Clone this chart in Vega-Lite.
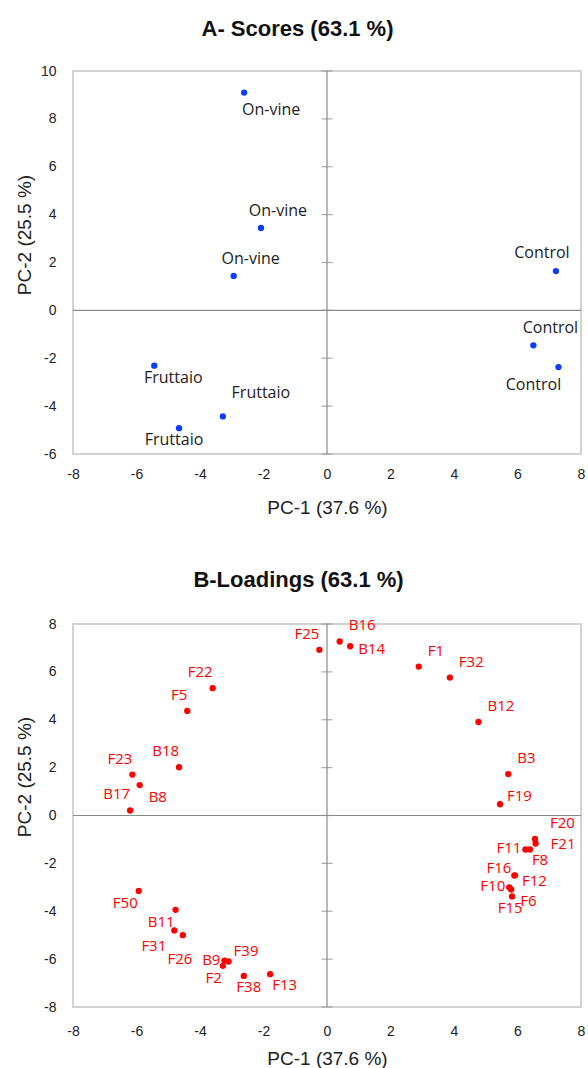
{
  "$schema": "https://vega.github.io/schema/vega-lite/v6.json",
  "autosize": {"type": "pad"},
  "padding": {"left": 14, "top": 17, "right": 0, "bottom": 0},
  "background": "white",
  "bounds": "flush",
  "spacing": 170,
  "config": {
    "view": {"stroke": "#d2d2d2", "strokeWidth": 2},
    "axis": {"grid": false, "domain": false, "ticks": false, "labelFlush": false, "labelOverlap": false, "labelFont": "Liberation Sans", "labelFontSize": 14, "labelColor": "#222222", "titleFont": "Liberation Sans", "titleFontSize": 19, "titleFontWeight": "normal", "titleColor": "#222222"}
  },
  "datasets": {
    "scores": [
      {"id": "On-vine 1", "label": "On-vine", "pc1": -2.61, "pc2": 9.10},
      {"id": "On-vine 2", "label": "On-vine", "pc1": -2.08, "pc2": 3.44},
      {"id": "On-vine 3", "label": "On-vine", "pc1": -2.94, "pc2": 1.44},
      {"id": "Control 1", "label": "Control", "pc1": 7.21, "pc2": 1.64},
      {"id": "Control 2", "label": "Control", "pc1": 6.50, "pc2": -1.46},
      {"id": "Control 3", "label": "Control", "pc1": 7.29, "pc2": -2.37},
      {"id": "Fruttaio 1", "label": "Fruttaio", "pc1": -5.44, "pc2": -2.31},
      {"id": "Fruttaio 2", "label": "Fruttaio", "pc1": -3.28, "pc2": -4.43},
      {"id": "Fruttaio 3", "label": "Fruttaio", "pc1": -4.66, "pc2": -4.92}
    ],
    "loadings": [
      {"label": "F25", "pc1": -0.24, "pc2": 6.92},
      {"label": "F22", "pc1": -3.60, "pc2": 5.32},
      {"label": "F5", "pc1": -4.40, "pc2": 4.37},
      {"label": "B18", "pc1": -4.66, "pc2": 2.02},
      {"label": "F23", "pc1": -6.13, "pc2": 1.71},
      {"label": "B8", "pc1": -5.90, "pc2": 1.27},
      {"label": "B17", "pc1": -6.20, "pc2": 0.21},
      {"label": "B16", "pc1": 0.40, "pc2": 7.27},
      {"label": "B14", "pc1": 0.73, "pc2": 7.07},
      {"label": "F1", "pc1": 2.89, "pc2": 6.22},
      {"label": "F32", "pc1": 3.87, "pc2": 5.76},
      {"label": "B12", "pc1": 4.77, "pc2": 3.91},
      {"label": "B3", "pc1": 5.71, "pc2": 1.73},
      {"label": "F19", "pc1": 5.45, "pc2": 0.47},
      {"label": "F20", "pc1": 6.55, "pc2": -0.98},
      {"label": "F21", "pc1": 6.57, "pc2": -1.17},
      {"label": "F11", "pc1": 6.25, "pc2": -1.42},
      {"label": "F8", "pc1": 6.39, "pc2": -1.42},
      {"label": "F16", "pc1": 5.90, "pc2": -2.51},
      {"label": "F12", "pc1": 5.92, "pc2": -2.50},
      {"label": "F10", "pc1": 5.74, "pc2": -3.00},
      {"label": "F6", "pc1": 5.80, "pc2": -3.09},
      {"label": "F15", "pc1": 5.83, "pc2": -3.38},
      {"label": "F50", "pc1": -5.93, "pc2": -3.15},
      {"label": "B11", "pc1": -4.77, "pc2": -3.94},
      {"label": "F31", "pc1": -4.81, "pc2": -4.80},
      {"label": "F26", "pc1": -4.54, "pc2": -5.00},
      {"label": "B9", "pc1": -3.23, "pc2": -6.06},
      {"label": "F39", "pc1": -3.10, "pc2": -6.10},
      {"label": "F2", "pc1": -3.28, "pc2": -6.28},
      {"label": "F38", "pc1": -2.62, "pc2": -6.70},
      {"label": "F13", "pc1": -1.79, "pc2": -6.63}
    ],
    "ticksA": [{"v": -6}, {"v": -4}, {"v": -2}, {"v": 0}, {"v": 2}, {"v": 4}, {"v": 6}, {"v": 8}, {"v": 10}],
    "ticksB": [{"v": -8}, {"v": -6}, {"v": -4}, {"v": -2}, {"v": 0}, {"v": 2}, {"v": 4}, {"v": 6}, {"v": 8}]
  },
  "vconcat": [
    {
      "width": 508,
      "height": 383,
      "title": {"text": "A- Scores (63.1 %)", "font": "Liberation Sans", "fontSize": 22, "fontWeight": "bold", "color": "#111111", "anchor": "middle", "frame": "group", "dx": -29.5, "offset": 23},
      "layer": [
        {
          "data": {"name": "scores"},
          "encoding": {
            "x": {"field": "pc1", "type": "quantitative", "scale": {"domain": [-8, 8], "nice": false, "zero": false},
              "axis": {"title": "PC-1 (37.6 %)", "values": [-8, -6, -4, -2, 0, 2, 4, 6, 8], "labelExpr": "'' + datum.value", "labelPadding": 13, "titleY": 53, "titleBaseline": "middle"}},
            "y": {"field": "pc2", "type": "quantitative", "scale": {"domain": [-6, 10], "nice": false, "zero": false},
              "axis": {"title": "PC-2 (25.5 %)", "values": [-6, -4, -2, 0, 2, 4, 6, 8, 10], "labelExpr": "'' + datum.value", "labelPadding": 17, "titleX": -39, "titleY": 163.5, "titleBaseline": "bottom"}}
          },
          "layer": [
            {"mark": {"type": "circle", "size": 40, "opacity": 1, "color": "#0a3cff"}},
            {"transform": [{"filter": {"field": "id", "oneOf": ["On-vine 1"]}}], "mark": {"type": "text", "font": "Open Sans", "fontSize": 16, "color": "#222222", "align": "center", "baseline": "middle", "dx": 27, "dy": 17}, "encoding": {"text": {"field": "label"}}},
            {"transform": [{"filter": {"field": "id", "oneOf": ["On-vine 2", "On-vine 3", "Control 2"]}}], "mark": {"type": "text", "font": "Open Sans", "fontSize": 16, "color": "#222222", "align": "center", "baseline": "middle", "dx": 17, "dy": -17}, "encoding": {"text": {"field": "label"}}},
            {"transform": [{"filter": {"field": "id", "oneOf": ["Control 1"]}}], "mark": {"type": "text", "font": "Open Sans", "fontSize": 16, "color": "#222222", "align": "center", "baseline": "middle", "dx": -14, "dy": -18}, "encoding": {"text": {"field": "label"}}},
            {"transform": [{"filter": {"field": "id", "oneOf": ["Control 3"]}}], "mark": {"type": "text", "font": "Open Sans", "fontSize": 16, "color": "#222222", "align": "center", "baseline": "middle", "dx": -25, "dy": 18}, "encoding": {"text": {"field": "label"}}},
            {"transform": [{"filter": {"field": "id", "oneOf": ["Fruttaio 1"]}}], "mark": {"type": "text", "font": "Open Sans", "fontSize": 16, "color": "#222222", "align": "center", "baseline": "middle", "dx": 19, "dy": 12}, "encoding": {"text": {"field": "label"}}},
            {"transform": [{"filter": {"field": "id", "oneOf": ["Fruttaio 3"]}}], "mark": {"type": "text", "font": "Open Sans", "fontSize": 16, "color": "#222222", "align": "center", "baseline": "middle", "dx": -5, "dy": 12}, "encoding": {"text": {"field": "label"}}},
            {"transform": [{"filter": {"field": "id", "oneOf": ["Fruttaio 2"]}}], "mark": {"type": "text", "font": "Open Sans", "fontSize": 16, "color": "#222222", "align": "center", "baseline": "middle", "dx": 38, "dy": -23}, "encoding": {"text": {"field": "label"}}}
          ]
        },
        {
          "data": {"values": [{}]},
          "mark": {"type": "rule", "color": "#8a8a8a", "strokeWidth": 1.2},
          "encoding": {"y": {"datum": 0, "type": "quantitative", "scale": {"domain": [-6, 10], "nice": false, "zero": false}, "title": "PC-2 (25.5 %)"}}
        },
        {
          "data": {"values": [{}]},
          "mark": {"type": "rule", "color": "#8a8a8a", "strokeWidth": 1.2},
          "encoding": {"x": {"datum": 0, "type": "quantitative", "scale": {"domain": [-8, 8], "nice": false, "zero": false}, "title": "PC-1 (37.6 %)"}}
        },
        {
          "data": {"name": "ticksA"},
          "mark": {"type": "tick", "orient": "horizontal", "size": 11, "thickness": 1.2, "color": "#8a8a8a"},
          "encoding": {
            "x": {"datum": 0, "type": "quantitative", "scale": {"domain": [-8, 8], "nice": false, "zero": false}, "title": "PC-1 (37.6 %)"},
            "y": {"field": "v", "type": "quantitative", "scale": {"domain": [-6, 10], "nice": false, "zero": false}, "title": "PC-2 (25.5 %)"}
          }
        }
      ]
    },
    {
      "width": 508,
      "height": 383,
      "title": {"text": "B-Loadings (63.1 %)", "font": "Liberation Sans", "fontSize": 22, "fontWeight": "bold", "color": "#111111", "anchor": "middle", "frame": "group", "dx": -28.5, "offset": 25},
      "layer": [
        {
          "data": {"name": "loadings"},
          "encoding": {
            "x": {"field": "pc1", "type": "quantitative", "scale": {"domain": [-8, 8], "nice": false, "zero": false},
              "axis": {"title": "PC-1 (37.6 %)", "values": [-8, -6, -4, -2, 0, 2, 4, 6, 8], "labelExpr": "'' + datum.value", "labelPadding": 17, "titleY": 51, "titleBaseline": "middle"}},
            "y": {"field": "pc2", "type": "quantitative", "scale": {"domain": [-8, 8], "nice": false, "zero": false},
              "axis": {"title": "PC-2 (25.5 %)", "values": [-8, -6, -4, -2, 0, 2, 4, 6, 8], "labelExpr": "'' + datum.value", "labelPadding": 17, "titleX": -39, "titleY": 152.5, "titleBaseline": "bottom"}}
          },
          "layer": [
            {"mark": {"type": "circle", "size": 40, "opacity": 1, "color": "#ff0000"}},
            {"transform": [{"filter": {"field": "label", "oneOf": ["F25", "F22", "F5", "B18", "F23", "B17"]}}], "mark": {"type": "text", "font": "Open Sans", "fontSize": 15, "color": "#ff0000", "align": "right", "baseline": "middle", "dx": 0, "dy": -16}, "encoding": {"text": {"field": "label"}}},
            {"transform": [{"filter": {"field": "label", "oneOf": ["B16", "F1", "F32", "B12", "B3"]}}], "mark": {"type": "text", "font": "Open Sans", "fontSize": 15, "color": "#ff0000", "align": "left", "baseline": "middle", "dx": 9, "dy": -16}, "encoding": {"text": {"field": "label"}}},
            {"transform": [{"filter": {"field": "label", "oneOf": ["F20"]}}], "mark": {"type": "text", "font": "Open Sans", "fontSize": 15, "color": "#ff0000", "align": "left", "baseline": "middle", "dx": 15, "dy": -16}, "encoding": {"text": {"field": "label"}}},
            {"transform": [{"filter": {"field": "label", "oneOf": ["F21"]}}], "mark": {"type": "text", "font": "Open Sans", "fontSize": 15, "color": "#ff0000", "align": "left", "baseline": "middle", "dx": 15, "dy": 0}, "encoding": {"text": {"field": "label"}}},
            {"transform": [{"filter": {"field": "label", "oneOf": ["B14"]}}], "mark": {"type": "text", "font": "Open Sans", "fontSize": 15, "color": "#ff0000", "align": "left", "baseline": "middle", "dx": 8, "dy": 3}, "encoding": {"text": {"field": "label"}}},
            {"transform": [{"filter": {"field": "label", "oneOf": ["F12"]}}], "mark": {"type": "text", "font": "Open Sans", "fontSize": 15, "color": "#ff0000", "align": "left", "baseline": "middle", "dx": 7, "dy": 6}, "encoding": {"text": {"field": "label"}}},
            {"transform": [{"filter": {"field": "label", "oneOf": ["F19"]}}], "mark": {"type": "text", "font": "Open Sans", "fontSize": 15, "color": "#ff0000", "align": "left", "baseline": "middle", "dx": 7, "dy": -8}, "encoding": {"text": {"field": "label"}}},
            {"transform": [{"filter": {"field": "label", "oneOf": ["F11", "F10", "B9"]}}], "mark": {"type": "text", "font": "Open Sans", "fontSize": 15, "color": "#ff0000", "align": "right", "baseline": "middle", "dx": -4, "dy": -1}, "encoding": {"text": {"field": "label"}}},
            {"transform": [{"filter": {"field": "label", "oneOf": ["F16"]}}], "mark": {"type": "text", "font": "Open Sans", "fontSize": 15, "color": "#ff0000", "align": "right", "baseline": "middle", "dx": -3, "dy": -8}, "encoding": {"text": {"field": "label"}}},
            {"transform": [{"filter": {"field": "label", "oneOf": ["F50", "B11", "F2"]}}], "mark": {"type": "text", "font": "Open Sans", "fontSize": 15, "color": "#ff0000", "align": "right", "baseline": "middle", "dx": -1, "dy": 12}, "encoding": {"text": {"field": "label"}}},
            {"transform": [{"filter": {"field": "label", "oneOf": ["F31"]}}], "mark": {"type": "text", "font": "Open Sans", "fontSize": 15, "color": "#ff0000", "align": "right", "baseline": "middle", "dx": -8, "dy": 16}, "encoding": {"text": {"field": "label"}}},
            {"transform": [{"filter": {"field": "label", "oneOf": ["F38"]}}], "mark": {"type": "text", "font": "Open Sans", "fontSize": 15, "color": "#ff0000", "align": "center", "baseline": "middle", "dx": 5, "dy": 11}, "encoding": {"text": {"field": "label"}}},
            {"transform": [{"filter": {"field": "label", "oneOf": ["F15"]}}], "mark": {"type": "text", "font": "Open Sans", "fontSize": 15, "color": "#ff0000", "align": "center", "baseline": "middle", "dx": -2, "dy": 12}, "encoding": {"text": {"field": "label"}}},
            {"transform": [{"filter": {"field": "label", "oneOf": ["F26"]}}], "mark": {"type": "text", "font": "Open Sans", "fontSize": 15, "color": "#ff0000", "align": "center", "baseline": "middle", "dx": -3, "dy": 24}, "encoding": {"text": {"field": "label"}}},
            {"transform": [{"filter": {"field": "label", "oneOf": ["B8", "F6"]}}], "mark": {"type": "text", "font": "Open Sans", "fontSize": 15, "color": "#ff0000", "align": "left", "baseline": "middle", "dx": 9, "dy": 12}, "encoding": {"text": {"field": "label"}}},
            {"transform": [{"filter": {"field": "label", "oneOf": ["F13", "F8"]}}], "mark": {"type": "text", "font": "Open Sans", "fontSize": 15, "color": "#ff0000", "align": "left", "baseline": "middle", "dx": 2, "dy": 11}, "encoding": {"text": {"field": "label"}}},
            {"transform": [{"filter": {"field": "label", "oneOf": ["F39"]}}], "mark": {"type": "text", "font": "Open Sans", "fontSize": 15, "color": "#ff0000", "align": "left", "baseline": "middle", "dx": 5, "dy": -11}, "encoding": {"text": {"field": "label"}}}
          ]
        },
        {
          "data": {"values": [{}]},
          "mark": {"type": "rule", "color": "#8a8a8a", "strokeWidth": 1.2},
          "encoding": {"y": {"datum": 0, "type": "quantitative", "scale": {"domain": [-8, 8], "nice": false, "zero": false}, "title": "PC-2 (25.5 %)"}}
        },
        {
          "data": {"values": [{}]},
          "mark": {"type": "rule", "color": "#8a8a8a", "strokeWidth": 1.2},
          "encoding": {"x": {"datum": 0, "type": "quantitative", "scale": {"domain": [-8, 8], "nice": false, "zero": false}, "title": "PC-1 (37.6 %)"}}
        },
        {
          "data": {"name": "ticksB"},
          "mark": {"type": "tick", "orient": "horizontal", "size": 11, "thickness": 1.2, "color": "#8a8a8a"},
          "encoding": {
            "x": {"datum": 0, "type": "quantitative", "scale": {"domain": [-8, 8], "nice": false, "zero": false}, "title": "PC-1 (37.6 %)"},
            "y": {"field": "v", "type": "quantitative", "scale": {"domain": [-8, 8], "nice": false, "zero": false}, "title": "PC-2 (25.5 %)"}
          }
        }
      ]
    }
  ]
}
